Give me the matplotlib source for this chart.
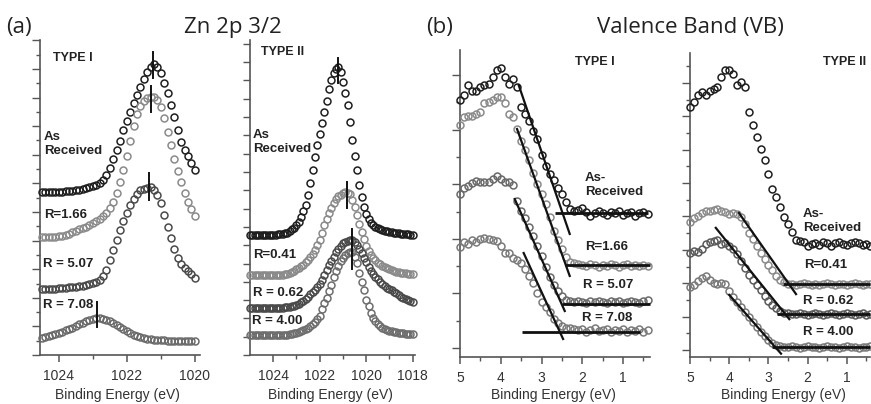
import numpy as np
import matplotlib
matplotlib.use("Agg")
import matplotlib.pyplot as plt
from matplotlib.ticker import FixedLocator

# ---------------- DATA ----------------
# (a) Zn 2p3/2, TYPE I  (binding energy grid, 0.1 eV steps)
zn1_be = np.round(np.arange(1024.5, 1019.95, -0.1), 1)
zn1_asrec = [163, 163, 163, 163, 163, 163,
             163, 164, 164, 164, 165, 165, 166, 167, 168, 169,
             170, 172, 175, 180, 187, 196, 205, 214, 225, 234,
             243, 252, 260, 268, 276, 283, 288, 291, 288, 282,
             272, 262, 250, 238, 225, 213, 205, 199, 192, 185]
zn1_r166 = [118, 118, 118, 118, 118, 119,
            119, 120, 121, 123, 124, 126, 127, 128, 130, 132,
            134, 136, 139, 142, 147, 153, 162, 173, 185, 199,
            214, 229, 241, 249, 254, 257, 258, 258, 255, 248,
            237, 223, 210, 196, 184, 173, 162, 153, 146, 139]
zn1_r507 = [66, 66, 66, 66, 66, 67,
            67, 67, 68, 68, 68, 69, 69, 70, 71, 72,
            73, 75, 79, 85, 95, 105, 115, 125, 134, 142,
            150, 156, 161, 165, 166, 167, 168, 165, 160, 152,
            140, 128, 117, 106, 97, 91, 87, 84, 81, 77]
zn1_r708 = [17, 18, 19, 20, 21, 22,
            23, 25, 26, 27, 29, 31, 32, 34, 35, 36,
            37, 37, 36, 35, 34, 32, 30, 28, 26, 24,
            22, 20, 19, 18, 17, 16, 16, 15, 15, 15,
            15, 14, 14, 14, 14, 14, 14, 14, 14, 14]
zn1_peak_be = [1021.24, 1021.29, 1021.35, 1022.89]
zn1_peak_lo = [277, 243, 155, 28]
zn1_peak_hi = [303, 269, 182, 53]
zn1_labels = ["As\nReceived", "R=1.66", "R = 5.07", "R = 7.08"]

# (a) Zn 2p3/2, TYPE II
zn2_be = np.round(np.arange(1025.0, 1017.95, -0.1), 1)
zn2_asrec = [120, 120, 120, 120, 120, 120, 120, 120, 120, 120,
             120, 120, 121, 121, 121, 122, 122, 124, 126, 127,
             130, 133, 138, 144, 150, 160, 172, 185, 198, 210,
             221, 232, 243, 254, 266, 275, 282, 286, 288, 283,
             273, 262, 250, 233, 215, 199, 185, 170, 158, 148,
             141, 136, 132, 130, 128, 127, 126, 125, 124, 124,
             123, 123, 122, 122, 122, 121, 121, 121, 121, 120, 120]
zn2_r041 = [80, 80, 80, 80, 80, 80, 80, 80, 80, 80,
            80, 80, 80, 80, 80, 81, 81, 82, 83, 84,
            86, 87, 89, 90, 93, 95, 98, 101, 105, 110,
            115, 122, 130, 136, 142, 147, 152, 156, 159, 160,
            162, 163, 162, 161, 155, 148, 140, 131, 123, 116,
            109, 104, 100, 97, 95, 92, 91, 89, 88, 87,
            86, 85, 84, 83, 83, 82, 82, 82, 81, 81, 81]
zn2_r062 = [47, 47, 47, 47, 47, 47, 47, 47, 47, 47,
            47, 47, 47, 47, 47, 48, 48, 48, 49, 49,
            50, 51, 53, 54, 56, 58, 61, 63, 65, 68,
            71, 75, 80, 85, 90, 94, 98, 103, 106, 109,
            112, 113, 114, 115, 115, 113, 110, 106, 102, 97,
            93, 88, 84, 81, 78, 76, 73, 71, 69, 67,
            66, 65, 63, 62, 60, 58, 57, 56, 55, 54, 53]
zn2_r400 = [20, 20, 20, 20, 20, 20, 20, 20, 20, 20,
            20, 20, 20, 20, 20, 20, 20, 21, 21, 22,
            22, 23, 24, 25, 26, 27, 29, 31, 33, 36,
            39, 46, 52, 57, 64, 70, 78, 84, 89, 94,
            97, 100, 102, 103, 103, 98, 92, 82, 73, 65,
            55, 49, 42, 37, 34, 31, 29, 27, 26, 25,
            24, 24, 23, 23, 22, 22, 22, 21, 21, 21, 21]
zn2_peak_be = [1021.22, 1020.84, 1020.62, 1020.62]
zn2_peak_lo = [272, 147, 100, 86]
zn2_peak_hi = [297, 173, 126, 112]
zn2_labels = ["As\nReceived", "R=0.41", "R = 0.62", "R = 4.00"]

# (b) Valence band, TYPE I
vb_be = np.round(np.arange(5.0, 0.35, -0.1), 1)
vb1_asrec = [257, 262, 272, 266, 266, 270, 272, 273, 280, 287,
             289, 280, 273, 278, 270, 250, 243, 236, 226, 218,
             202, 191, 183, 177, 169, 163, 155, 148, 146, 147,
             149, 145, 141, 144, 146, 144, 142, 145, 144, 146,
             142, 144, 145, 141, 144, 145, 143]
vb1_r166 = [232, 240, 241, 241, 243, 245, 254, 255, 257, 260,
            260, 254, 243, 240, 228, 216, 207, 197, 184, 173,
            163, 153, 140, 126, 117, 108, 100, 95, 94, 93,
            92, 91, 93, 92, 90, 92, 91, 93, 92, 90,
            92, 93, 91, 92, 91, 92, 91]
vb1_r507 = [163, 169, 171, 174, 176, 175, 175, 175, 178, 181,
            178, 175, 175, 172, 156, 146, 139, 130, 121, 111,
            101, 90, 80, 72, 66, 61, 57, 56, 55, 56,
            55, 54, 56, 55, 56, 55, 54, 56, 55, 56,
            54, 55, 56, 55, 54, 56, 57]
vb1_r708 = [110, 115, 113, 117, 115, 118, 119, 118, 117, 116,
            111, 104, 104, 99, 97, 94, 88, 81, 74, 64,
            55, 50, 45, 38, 34, 31, 29, 29, 28, 27,
            28, 25, 27, 29, 26, 27, 28, 25, 27, 26,
            28, 25, 27, 26, 28, 25, 27]
# linear extrapolations (edge fit lines): [E_start, E_end], [I_start, I_end]
vb1_edge_be = [[3.57, 2.30], [3.61, 2.30], [3.67, 2.42], [3.45, 2.46]]
vb1_edge_i = [[273, 122], [229, 80], [159, 45], [105, 17]]
vb1_base_be = [[2.67, 0.38], [2.42, 0.34], [2.50, 0.34], [3.49, 0.58]]
vb1_base_i = [144, 92, 53, 25]
vb1_labels = ["As-\nReceived", "R=1.66", "R = 5.07", "R = 7.08"]

# (b) Valence band, TYPE II
vb2_asrec = [250, 255, 262, 265, 262, 266, 268, 270, 280, 287,
             287, 283, 272, 275, 270, 245, 232, 220, 208, 197,
             183, 168, 160, 150, 140, 133, 125, 117, 116, 115,
             111, 113, 114, 112, 115, 114, 111, 114, 115, 113,
             112, 114, 115, 114, 112, 113, 111]
vb2_r041 = [135, 139, 141, 144, 146, 146, 147, 148, 146, 145,
            143, 144, 143, 140, 133, 124, 118, 111, 104, 98,
            92, 87, 81, 77, 75, 73, 73, 72, 73, 74,
            73, 72, 73, 72, 73, 74, 73, 72, 73, 73,
            72, 73, 74, 73, 72, 73, 73]
vb2_r062 = [104, 106, 105, 108, 113, 115, 116, 117, 113, 114,
            111, 108, 103, 96, 89, 82, 77, 72, 67, 61,
            56, 52, 49, 46, 44, 44, 43, 43, 44, 43,
            42, 43, 44, 43, 42, 43, 44, 43, 42, 43,
            44, 43, 42, 43, 44, 42, 43]
vb2_r400 = [70, 72, 76, 79, 81, 77, 74, 73, 74, 73,
            66, 60, 55, 50, 45, 40, 35, 30, 25, 21,
            17, 14, 12, 11, 10, 10, 11, 10, 9, 10,
            11, 10, 10, 9, 10, 11, 10, 10, 9, 10,
            11, 10, 10, 9, 10, 10, 11]
vb2_edge_be = [[3.77, 2.28], [4.36, 2.45], [4.02, 2.66]]
vb2_edge_i = [[145, 62], [130, 37], [63, 2.5]]
vb2_base_be = [[2.62, 0.41], [2.79, 0.41], [2.92, 0.41]]
vb2_base_i = [73, 43, 10]
vb2_labels = ["As-\nReceived", "R=0.41", "R = 0.62", "R = 4.00"]

zn1_xticks = [1024, 1022, 1020]
zn2_xticks = [1024, 1022, 1020, 1018]
vb_xticks = [5, 4, 3, 2, 1]

# ---------------- FIGURE ----------------
plt.rcParams['font.family'] = ['Liberation Sans', 'DejaVu Sans']
W, H = 871, 404
fig = plt.figure(figsize=(W / 100, H / 100), dpi=100)


def px_axes(l, t, r, b):
    return fig.add_axes([l / W, 1 - b / H, (r - l) / W, (b - t) / H])


def ftext(x, y, s, **kw):
    kw.setdefault('ha', 'left')
    kw.setdefault('va', 'center')
    fig.text(x / W, 1 - y / H, s, **kw)


SPINE = '#555555'
MS = 5.0
MEW = 1.1


def style(ax, xmaj, xmin, ymaj, ymin, ymaj_len=6, ymin_len=3):
    for s in ('top', 'right'):
        ax.spines[s].set_visible(False)
    for s in ('left', 'bottom'):
        ax.spines[s].set_color(SPINE)
        ax.spines[s].set_linewidth(1.2)
    ax.xaxis.set_major_locator(FixedLocator(xmaj))
    ax.xaxis.set_minor_locator(FixedLocator(xmin))
    ax.yaxis.set_major_locator(FixedLocator(ymaj))
    ax.yaxis.set_minor_locator(FixedLocator(ymin))
    ax.tick_params(axis='x', which='major', direction='out', length=5, width=1.1,
                   color=SPINE, labelsize=10, labelcolor='#333333', pad=5)
    ax.tick_params(axis='x', which='minor', direction='out', length=3, width=1.0,
                   color=SPINE)
    ax.tick_params(axis='y', which='major', direction='out', length=ymaj_len, width=1.0,
                   color=SPINE, labelleft=False)
    ax.tick_params(axis='y', which='minor', direction='out', length=ymin_len, width=1.0,
                   color=SPINE)
    ax.set_xticklabels([str(t) for t in xmaj])
    ax.patch.set_alpha(0)


def circles(ax, x, y, c):
    ax.plot(x, y, 'o', mfc='none', mec=c, ms=MS, mew=MEW, zorder=3, clip_on=False)


# Panel 1 : Zn 2p TYPE I
ax1 = px_axes(40, 40, 200, 355)
ax1.set_xlim(1024.55, 1019.85)
ax1.set_ylim(0, 315)
zn1_colors = ['#1e1e1e', '#8a8a8a', '#4a4a4a', '#6a6a6a']
for yv, c in zip([zn1_asrec, zn1_r166, zn1_r507, zn1_r708], zn1_colors):
    circles(ax1, zn1_be, yv, c)
for e, lo, hi in zip(zn1_peak_be, zn1_peak_lo, zn1_peak_hi):
    ax1.plot([e, e], [lo, hi], color='#111111', lw=1.4, zorder=4)
style(ax1, zn1_xticks, [1023, 1021], np.arange(0, 316, 28.6), np.arange(14.3, 316, 28.6))

# Panel 2 : Zn 2p TYPE II
ax2 = px_axes(250, 40, 415, 355)
ax2.set_xlim(1025.0, 1017.9)
ax2.set_ylim(0, 315)
zn2_colors = ['#1e1e1e', '#8a8a8a', '#4a4a4a', '#6e6e6e']
for yv, c in zip([zn2_asrec, zn2_r041, zn2_r062, zn2_r400], zn2_colors):
    circles(ax2, zn2_be, yv, c)
for e, lo, hi in zip(zn2_peak_be, zn2_peak_lo, zn2_peak_hi):
    ax2.plot([e, e], [lo, hi], color='#111111', lw=1.4, zorder=4)
style(ax2, zn2_xticks, [1023, 1021, 1019], np.arange(0, 316, 36.6), np.arange(18.3, 316, 36.6),
      ymaj_len=5, ymin_len=5)

# Panel 3 : VB TYPE I
ax3 = px_axes(460, 50, 650, 357)
ax3.set_xlim(5.0, 0.34)
ax3.set_ylim(0, 307)
vb1_colors = ['#1e1e1e', '#8a8a8a', '#6a6a6a', '#7a7a7a']
for yv, c in zip([vb1_asrec, vb1_r166, vb1_r507, vb1_r708], vb1_colors):
    circles(ax3, vb_be, yv, c)
for ee, ii in zip(vb1_edge_be, vb1_edge_i):
    ax3.plot(ee, ii, color='#111111', lw=1.6, zorder=4, solid_capstyle='butt')
for ee, iv in zip(vb1_base_be, vb1_base_i):
    ax3.plot(ee, [iv, iv], color='#111111', lw=2.0, zorder=4, solid_capstyle='butt', clip_on=False)
style(ax3, vb_xticks, [4.5, 3.5, 2.5, 1.5, 0.5], np.arange(9, 308, 54.6), np.arange(36.3, 308, 54.6))

# Panel 4 : VB TYPE II
ax4 = px_axes(690, 53, 870, 357)
ax4.set_xlim(5.0, 0.41)
ax4.set_ylim(0, 304)
vb2_colors = ['#1e1e1e', '#8a8a8a', '#5a5a5a', '#7a7a7a']
for yv, c in zip([vb2_asrec, vb2_r041, vb2_r062, vb2_r400], vb2_colors):
    circles(ax4, vb_be, yv, c)
for ee, ii in zip(vb2_edge_be, vb2_edge_i):
    ax4.plot(ee, ii, color='#111111', lw=1.6, zorder=4, solid_capstyle='butt')
for ee, iv in zip(vb2_base_be, vb2_base_i):
    ax4.plot(ee, [iv, iv], color='#111111', lw=2.0, zorder=4, solid_capstyle='butt', clip_on=False)
style(ax4, vb_xticks, [4.5, 3.5, 2.5, 1.5, 0.5], np.arange(7, 305, 33.4), np.arange(23.7, 305, 33.4))

# ---------------- TEXT ----------------
LBL = dict(fontsize=9.5, fontweight='bold', color='#222222')
TYP = dict(fontsize=9, fontweight='bold', color='#222222')

ftext(53, 58, "TYPE I", **TYP)
ftext(44, 144, zn1_labels[0], linespacing=1.15, **LBL)
ftext(44, 215, zn1_labels[1], **LBL)
ftext(43, 264, zn1_labels[2], **LBL)
ftext(43, 305, zn1_labels[3], **LBL)

ftext(261, 52, "TYPE II", **TYP)
ftext(253, 142, zn2_labels[0], linespacing=1.15, **LBL)
ftext(253, 255, zn2_labels[1], **LBL)
ftext(253, 293, zn2_labels[2], **LBL)
ftext(252, 321, zn2_labels[3], **LBL)

ftext(575, 62, "TYPE I", **TYP)
ftext(585, 185, vb1_labels[0], linespacing=1.15, **LBL)
ftext(585, 247, vb1_labels[1], **LBL)
ftext(583, 285, vb1_labels[2], **LBL)
ftext(582, 318, vb1_labels[3], **LBL)

ftext(823, 62, "TYPE II", **TYP)
ftext(803, 221, vb2_labels[0], linespacing=1.15, **LBL)
ftext(804, 265, vb2_labels[1], **LBL)
ftext(803, 301, vb2_labels[2], **LBL)
ftext(803, 332, vb2_labels[3], **LBL)

TT = dict(fontsize=16, color='#222222', family=['Open Sans', 'DejaVu Sans'])
ftext(6, 27, "(a)", **TT)
ftext(233, 27, "Zn 2p 3/2", ha='center', **TT)
ftext(426, 27, "(b)", **TT)
ftext(690, 27, "Valence Band (VB)", ha='center', **TT)

XL = dict(fontsize=10, color='#333333', ha='center')
for cx in (117, 330, 553, 783):
    ftext(cx, 395, "Binding Energy (eV)", **XL)

fig.savefig("out.png", dpi=100)
